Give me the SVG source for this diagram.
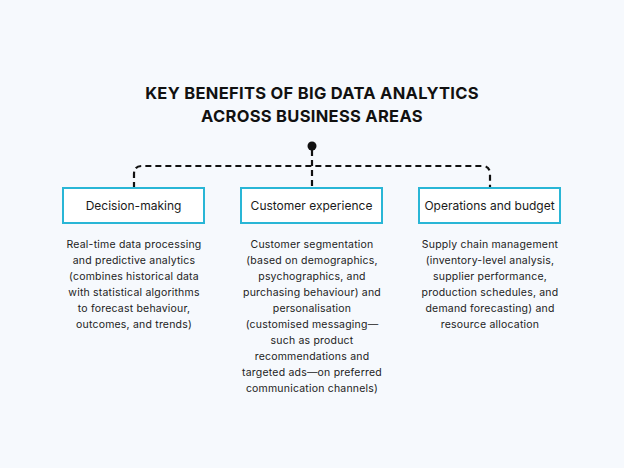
<svg xmlns="http://www.w3.org/2000/svg" width="624" height="468" viewBox="0 0 624 468">
<style>
.t{font-family:Inter,"Open Sans",sans-serif;font-size:12px;fill:#1a1a1a;text-anchor:middle}
.d{font-family:Inter,"Open Sans",sans-serif;font-size:10.5px;letter-spacing:0.2px;fill:#222;text-anchor:middle}
.h{font-family:Inter,"Open Sans",sans-serif;font-size:16.5px;font-weight:700;fill:#111;text-anchor:middle;letter-spacing:0.3px}
.b{fill:#fff;stroke:#29b6d6;stroke-width:2}
.c{fill:none;stroke:#111;stroke-width:2.2;stroke-dasharray:6 4}
</style>
<rect width="624" height="468" fill="#f6f9fd"/>
<text class="h" x="312" y="99">KEY BENEFITS OF BIG DATA ANALYTICS</text>
<text class="h" x="312" y="122">ACROSS BUSINESS AREAS</text>
<g id="connectors">
<path class="c" d="M134 188 V174 Q134 166 142 166 H482 Q490 166 490 174 V188"/>
<path class="c" d="M312 150 V188"/>
<circle cx="312" cy="146" r="4.5" fill="#111"/>
</g>
<g id="n1"><rect class="b" x="63" y="188" width="141" height="35"/><text class="t" x="133.5" y="210">Decision-making</text>
<text class="d"><tspan x="134" y="248">Real-time data processing</tspan><tspan x="134" y="264">and predictive analytics</tspan><tspan x="134" y="280">(combines historical data</tspan><tspan x="134" y="296">with statistical algorithms</tspan><tspan x="134" y="312">to forecast behaviour,</tspan><tspan x="134" y="328">outcomes, and trends)</tspan></text></g>
<g id="n2"><rect class="b" x="241" y="188" width="141" height="35"/><text class="t" x="311.5" y="210">Customer experience</text>
<text class="d"><tspan x="312" y="248">Customer segmentation</tspan><tspan x="312" y="264">(based on demographics,</tspan><tspan x="312" y="280">psychographics, and</tspan><tspan x="312" y="296">purchasing behaviour) and</tspan><tspan x="312" y="312">personalisation</tspan><tspan x="312" y="328">(customised messaging—</tspan><tspan x="312" y="344">such as product</tspan><tspan x="312" y="360">recommendations and</tspan><tspan x="312" y="376">targeted ads—on preferred</tspan><tspan x="312" y="392">communication channels)</tspan></text></g>
<g id="n3"><rect class="b" x="419" y="188" width="141" height="35"/><text class="t" x="489.5" y="210">Operations and budget</text>
<text class="d"><tspan x="490" y="248">Supply chain management</tspan><tspan x="490" y="264">(inventory-level analysis,</tspan><tspan x="490" y="280">supplier performance,</tspan><tspan x="490" y="296">production schedules, and</tspan><tspan x="490" y="312">demand forecasting) and</tspan><tspan x="490" y="328">resource allocation</tspan></text></g>
</svg>
